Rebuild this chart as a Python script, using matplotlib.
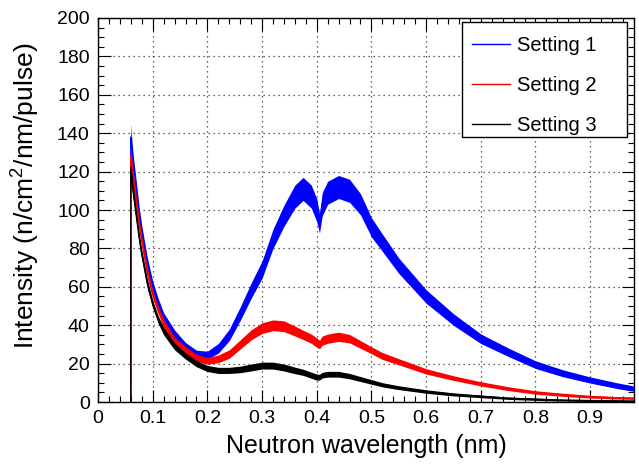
import numpy as np
import matplotlib
matplotlib.use("Agg")
import matplotlib.pyplot as plt
from matplotlib.ticker import MultipleLocator
from matplotlib.patches import Rectangle

plt.rcParams['font.family'] = ['Liberation Sans', 'DejaVu Sans']
plt.rcParams['mathtext.fontset'] = 'custom'
plt.rcParams['mathtext.rm'] = 'Liberation Sans'
plt.rcParams['mathtext.it'] = 'Liberation Sans:italic'

wavelength = [0.0599, 0.06, 0.062, 0.065, 0.07, 0.075, 0.08, 0.09, 0.10, 0.11, 0.12, 0.14, 0.16,
              0.18, 0.20, 0.22, 0.24, 0.26, 0.28, 0.30, 0.32, 0.34, 0.36, 0.375, 0.39,
              0.40, 0.405, 0.41, 0.42, 0.44, 0.46, 0.48, 0.50, 0.52, 0.55, 0.60, 0.65,
              0.70, 0.75, 0.80, 0.85, 0.90, 0.95, 0.98]

setting1 = [0, 138, 130, 122, 110, 98, 88, 72, 60, 51, 44, 35, 29,
            25, 24.5, 28, 35, 46, 58, 69, 85, 97, 107, 111, 107,
            100, 93, 103, 109, 112, 110, 103, 91, 83, 71, 55, 43,
            33, 26, 19.5, 15, 11.5, 8.5, 7]
setting2 = [0, 128, 122, 115, 104, 93, 84, 68, 56, 48, 41, 32, 27,
            23, 21.5, 22.5, 25, 30, 35, 38.5, 40, 39.5, 37, 35, 33,
            31, 30, 32, 33, 34, 33, 30, 27, 24, 21, 16, 12.5,
            9.5, 7, 5, 3.8, 2.8, 2.2, 2]
setting3 = [0, 122, 115, 108, 97, 86, 77, 62, 51, 43, 37, 29, 24,
            20, 17.5, 16.5, 16.5, 17, 18, 19, 19, 18, 16.5, 15.5, 14,
            13, 13, 14, 14.5, 14.5, 13.5, 12, 10.5, 9, 7.5, 5.5, 4,
            3, 2, 1.5, 1, 0.8, 0.6, 0.5]

# half-width of the noise band
spread1 = [0, 7, 6, 5, 5, 4, 4, 3.5, 3, 3, 2.5, 2.5, 2,
           2, 2, 2.5, 3, 3.5, 4, 4.5, 5, 5.5, 6, 6, 6,
           6, 5, 6, 6, 6, 6, 5.5, 5, 4.5, 4, 3.5, 3,
           2.5, 2.2, 2, 1.8, 1.6, 1.5, 1.4]
spread2 = [0, 4, 4, 3.5, 3, 3, 2.5, 2.5, 2, 2, 2, 1.8, 1.8,
           1.8, 1.8, 2, 2.2, 2.4, 2.6, 2.8, 2.8, 2.8, 2.6, 2.4, 2.4,
           2.4, 2.2, 2.4, 2.4, 2.4, 2.2, 2, 1.8, 1.8, 1.6, 1.4, 1.2,
           1.1, 1, 0.9, 0.8, 0.7, 0.6, 0.6]
spread3 = [0, 4, 4, 3.5, 3, 3, 2.5, 2.5, 2, 2, 2, 1.8, 1.6,
           1.6, 1.6, 1.6, 1.6, 1.7, 1.8, 1.8, 1.8, 1.8, 1.7, 1.6, 1.6,
           1.6, 1.5, 1.5, 1.5, 1.5, 1.4, 1.3, 1.2, 1.1, 1, 0.9, 0.8,
           0.7, 0.6, 0.6, 0.5, 0.5, 0.5, 0.5]

labels = ['Setting 1', 'Setting 2', 'Setting 3']
colors = ['#0000ff', '#ff0000', '#000000']
xtick_labels = ['0', '0.1', '0.2', '0.3', '0.4', '0.5', '0.6', '0.7', '0.8', '0.9']

fig = plt.figure(figsize=(6.39, 4.67), dpi=100)
ax = fig.add_axes([0.1534, 0.139, 0.992 - 0.1534, 0.9615 - 0.139])

x = np.array(wavelength)
for y, s, lab, c in [(setting1, spread1, labels[0], colors[0]),
                     (setting2, spread2, labels[1], colors[1]),
                     (setting3, spread3, labels[2], colors[2])]:
    y = np.array(y, dtype=float)
    s = np.array(s, dtype=float)
    ax.fill_between(x, y - s, y + s, color=c, linewidth=0, zorder=3)
    ax.plot(x, y, color=c, linewidth=1.0, label=lab, zorder=3)

ax.set_xlim(0, 0.98)
ax.set_ylim(0, 200)
ax.xaxis.set_minor_locator(MultipleLocator(0.02))
ax.yaxis.set_major_locator(MultipleLocator(20))
ax.yaxis.set_minor_locator(MultipleLocator(5))
ax.set_xticks([i / 10 for i in range(len(xtick_labels))])
ax.set_xticklabels(xtick_labels)
ax.tick_params(which='both', direction='in', top=True, right=True, labelsize=14, width=0.8)
ax.tick_params(which='major', length=9, pad=6)
ax.tick_params(which='minor', length=4.5)
ax.grid(True, which='major', linestyle=(0, (1, 3)), color='#333333', linewidth=0.9, zorder=1)
ax.set_axisbelow(True)
for sp in ax.spines.values():
    sp.set_linewidth(1.0)

ax.set_xlabel('Neutron wavelength (nm)', fontsize=18, labelpad=5)
ax.set_ylabel(r'Intensity (n/cm$^{2}$/nm/pulse)', fontsize=19)
ax.yaxis.set_label_coords(-0.105, 0.536)

# legend box (ROOT-style, asymmetric padding)
ax.add_patch(Rectangle((0.679, 0.690), 0.987 - 0.679, 0.99 - 0.690, transform=ax.transAxes,
                       facecolor='white', edgecolor='black', linewidth=1.0, zorder=4.5))
leg = ax.legend(loc='upper left', bbox_to_anchor=(0.679, 0.978), fontsize=14.5,
                frameon=False, handlelength=1.9, labelspacing=1.03, borderpad=0.5,
                handletextpad=0.35, borderaxespad=0)
leg.set_zorder(5)
for h in leg.get_lines():
    h.set_linewidth(1.0)

fig.savefig('out.png', dpi=100)
